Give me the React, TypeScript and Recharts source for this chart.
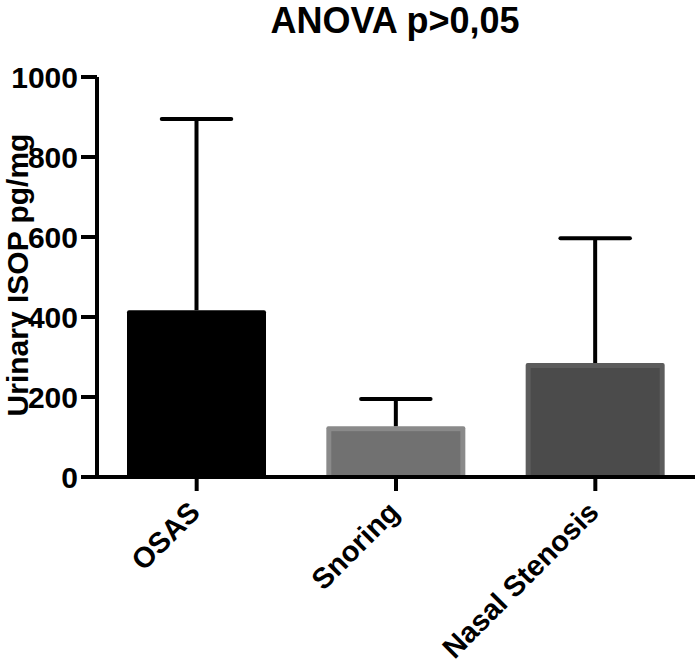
import React from "react";
import { BarChart, Bar, XAxis, YAxis } from "recharts";

const categories = ["OSAS", "Snoring", "Nasal Stenosis"];
const means = [417, 127, 285];
const sdUpper = [478, 68, 312];
const yTicks = [0, 200, 400, 600, 800, 1000];
const title = "ANOVA p>0,05";
const yLabel = "Urinary ISOP pg/mg";

const innerColors = ["#000000", "#717171", "#4b4b4b"];
const borderColors = ["#000000", "#8a8a8a", "#5c5c5c"];

const FONT = "'Liberation Sans', Arial, Helvetica, sans-serif";

const data = categories.map((name, i) => ({ name, mean: means[i], sd: sdUpper[i] }));

const MeanShape = (props: any) => {
  const { x, y, width, height, index } = props;
  const b = 5;
  return (
    <g>
      <rect x={x} y={y} width={width} height={height} rx={2} fill={borderColors[index]} />
      <rect x={x + b} y={y + b} width={Math.max(0, width - 2 * b)} height={Math.max(0, height - b)} fill={innerColors[index]} />
    </g>
  );
};

const ErrShape = (props: any) => {
  const { x, y, width, height } = props;
  const cx = x + width / 2;
  const half = width / 4;
  return (
    <g>
      <line x1={cx} y1={y + height} x2={cx} y2={y} stroke="#000" strokeWidth={4} />
      <line x1={cx - half} y1={y} x2={cx + half} y2={y} stroke="#000" strokeWidth={4} strokeLinecap="round" />
    </g>
  );
};

const XTick = (props: any) => {
  const { x, y, payload } = props;
  const ax = x + 5;
  const ay = y + 21;
  return (
    <text
      x={ax}
      y={ay}
      transform={`rotate(-45, ${ax}, ${ay})`}
      textAnchor="end"
      fontFamily={FONT}
      fontWeight="bold"
      fontSize={29}
      fill="#000"
    >
      {payload.value}
    </text>
  );
};

export default function App() {
  return (
    <div style={{ position: "absolute", left: 0, top: 0, width: 696, height: 665, background: "#fff" }}>
      <BarChart
        width={696}
        height={665}
        data={data}
        margin={{ top: 77, right: 1, bottom: 158, left: 0 }}
        barSize={139}
      >
        <text x={395} y={33} textAnchor="middle" fontFamily={FONT} fontWeight="bold" fontSize={36} fill="#000">
          {title}
        </text>
        <text
          x={28}
          y={275}
          transform="rotate(-90, 28, 275)"
          textAnchor="middle"
          fontFamily={FONT}
          fontWeight="bold"
          fontSize={30}
          fill="#000"
        >
          {yLabel}
        </text>
        <Bar dataKey="mean" stackId="a" isAnimationActive={false} shape={<MeanShape />} />
        <Bar dataKey="sd" stackId="a" isAnimationActive={false} shape={<ErrShape />} />
        <XAxis
          dataKey="name"
          height={30}
          axisLine={{ stroke: "#000", strokeWidth: 4 }}
          tickLine={{ stroke: "#000", strokeWidth: 4 }}
          tickSize={14}
          tickMargin={2}
          tick={<XTick />}
          interval={0}
        />
        <YAxis
          width={97}
          domain={[0, 1000]}
          ticks={yTicks}
          interval={0}
          axisLine={{ stroke: "#000", strokeWidth: 4 }}
          tickLine={{ stroke: "#000", strokeWidth: 4 }}
          tickSize={16}
          tickMargin={3}
          tick={{ fontFamily: FONT, fontWeight: "bold", fontSize: 30, fill: "#000" }}
        />
      </BarChart>
    </div>
  );
}
